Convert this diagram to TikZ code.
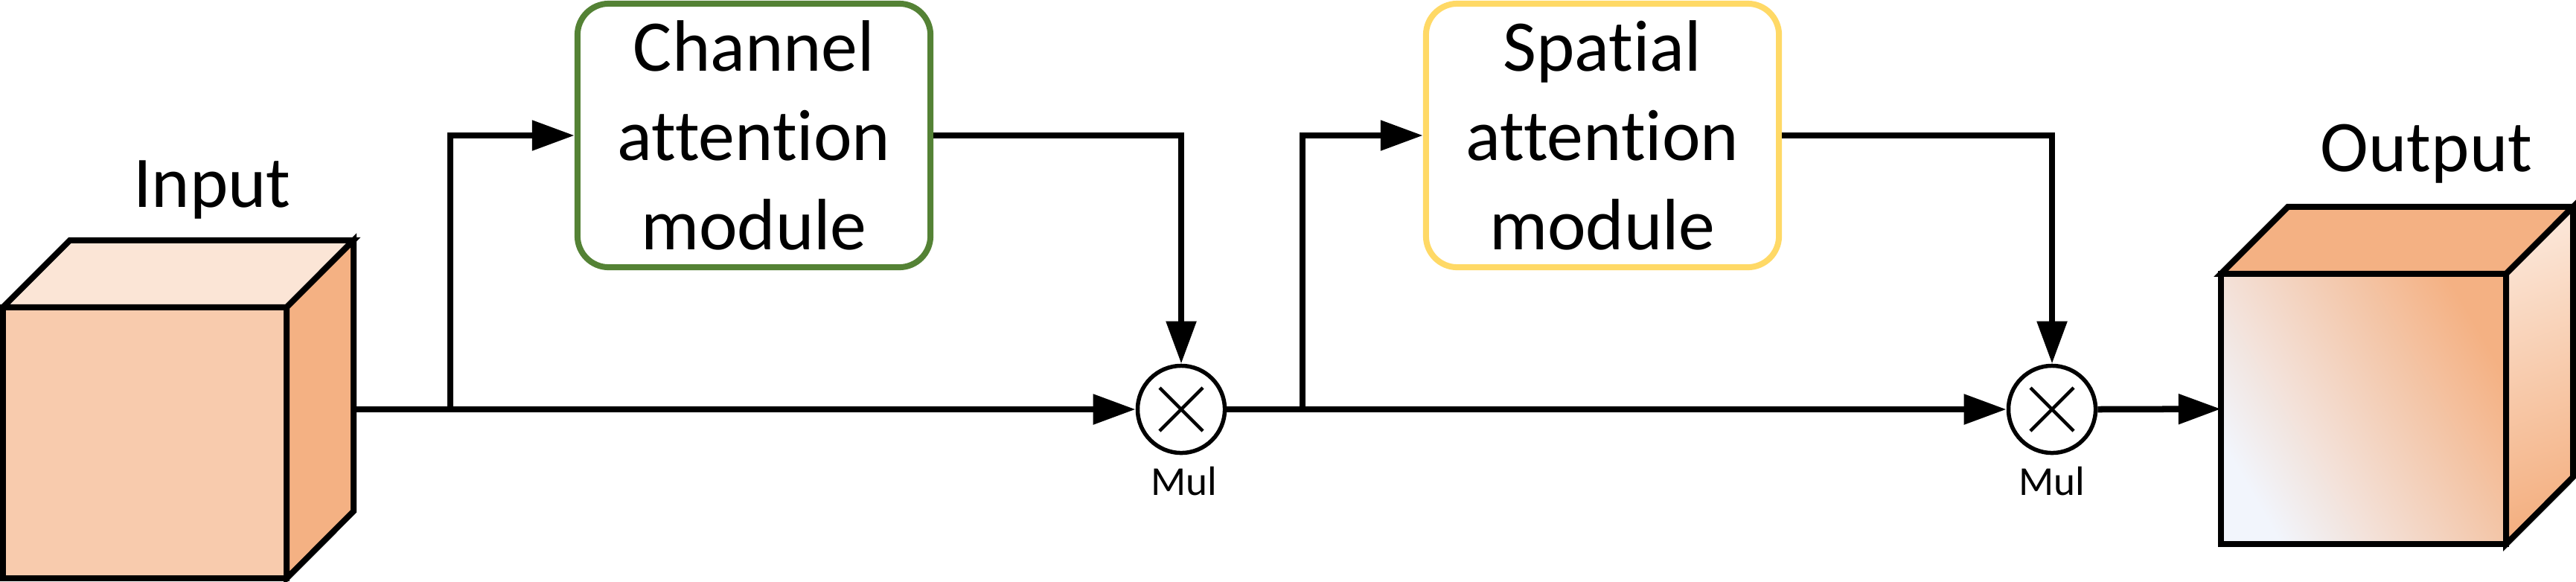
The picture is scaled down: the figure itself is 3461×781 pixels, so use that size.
\documentclass[tikz,border=0pt]{standalone}
\usepackage{fontspec}
\setmainfont{Carlito}[Ligatures={NoCommon}]
\usetikzlibrary{arrows.meta,calc}
\definecolor{oLight}{HTML}{FBE5D6}
\definecolor{oMid}{HTML}{F8CBAD}
\definecolor{oDark}{HTML}{F4B183}
\definecolor{oWhite}{HTML}{F2F5FC}
\definecolor{gBox}{HTML}{548235}
\definecolor{yBox}{HTML}{FFD966}
\begin{document}
\begin{tikzpicture}[x=0.01cm,y=-0.01cm,
  conn/.style={line width=0.085cm},
  arr/.style={conn,-{Triangle[length=0.57cm,width=0.39cm]}},
  face/.style={draw,line width=0.08cm},
  front/.style={face,outer sep=0pt,inner sep=0pt,minimum width=3.81cm,minimum height=3.64cm},
  big/.style={font=\fontsize{27.8pt}{34.14pt}\selectfont},
  small/.style={font=\fontsize{15.7pt}{19pt}\selectfont},
  box/.style={draw,line width=0.08cm,rounded corners=0.42cm,minimum width=4.74cm,minimum height=3.54cm,inner sep=0pt,align=center,big},
  mul/.style={circle,draw,line width=0.055cm,minimum size=1.17cm,inner sep=0pt,
     path picture={\draw[line width=0.045cm] (path picture bounding box.center) ++(-0.29cm,-0.29cm) -- ++(0.58cm,0.58cm) (path picture bounding box.center) ++(-0.29cm,0.29cm) -- ++(0.58cm,-0.58cm);}}
]
\useasboundingbox (0,0) rectangle (3461,781);

% input cube
\node[front,fill=oMid] (in) at (194.5,595) {};
\draw[face,fill=oLight] (in.north west) -- ++(90,-90) -- ++(381,0) -- (in.north east) -- cycle;
\draw[face,fill=oDark] (in.north east) -- ++(90,-90) -- ++(0,364) -- (in.south east) -- cycle;
\node[big,anchor=base] (inlab) at (285,278) {Input};

% output cube
\node[front,minimum width=3.83cm,minimum height=3.63cm,top color=oDark,bottom color=oWhite,shading angle=-60] (out) at (3175.5,549.5) {};
\draw[face,fill=oDark] (out.north west) -- ++(90,-90) -- ++(383,0) -- (out.north east) -- cycle;
\draw[face,top color=oLight,bottom color=oDark,shading angle=20] (out.north east) -- ++(90,-90) -- ++(0,363) -- (out.south east) -- cycle;
\node[big,anchor=base] (outlab) at (3260,230) {Output};

% modules
\node[box,draw=gBox] (ch) at (1013,182) {Channel\\attention\\module};
\node[box,draw=yBox] (sp) at (2153,182) {Spatial\\attention\\module};

% multipliers
\node[mul] (m1) at (1587,550) {};
\node[mul] (m2) at (2757,550) {};
\node[small,anchor=base] (l1) at (1591,665) {Mul};
\node[small,anchor=base] (l2) at (2757,665) {Mul};

% connectors
\coordinate (inR) at ($(in.east)+(90,-45)$);
\coordinate (b1) at (605,550);
\coordinate (b2) at (1750,550);
\draw[arr] (inR) -- (m1.west);
\draw[arr] (b1) |- (ch.west);
\draw[arr] (ch.east) -| (m1.north);
\draw[arr] (m1.east) -- (m2.west);
\draw[arr] (b2) |- (sp.west);
\draw[arr] (sp.east) -| (m2.north);
\draw[arr] (m2.east) -- (out.west);
\end{tikzpicture}
\end{document}
